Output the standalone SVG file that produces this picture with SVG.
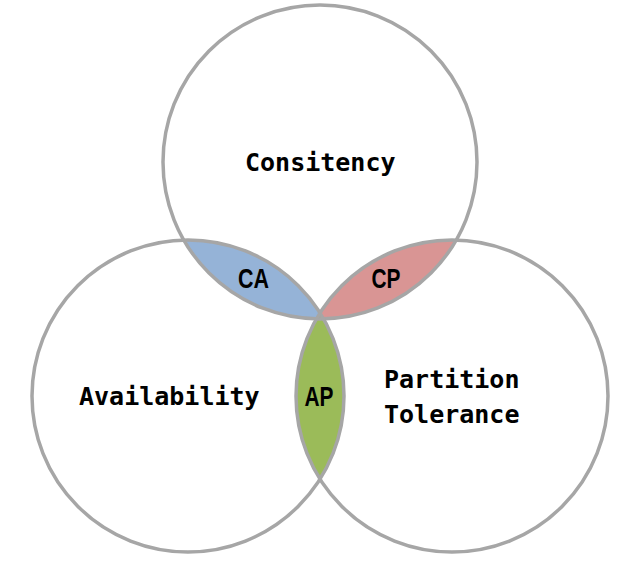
<svg xmlns="http://www.w3.org/2000/svg" width="627" height="562" viewBox="0 0 627 562">
<style>
.ring{fill:none;stroke:#a6a6a6;stroke-width:3.5}
.lbl{font-family:"DejaVu Sans Mono","Liberation Mono",monospace;font-size:25px;font-weight:bold;fill:#000}
.sm{font-family:"Liberation Sans Narrow","Liberation Sans",Arial,sans-serif;font-size:28px;font-weight:bold;fill:#000;text-anchor:middle}
</style>
<defs>
<clipPath id="cTop"><circle cx="320" cy="162" r="157"/></clipPath>
<clipPath id="cLeft"><circle cx="188" cy="396" r="156"/></clipPath>
</defs>
<rect width="627" height="562" fill="#fff"/>
<g id="CA"><circle cx="188" cy="396" r="156" fill="#95b3d7" clip-path="url(#cTop)"/><text class="sm" x="253.5" y="288" textLength="31" lengthAdjust="spacingAndGlyphs">CA</text></g>
<g id="CP"><circle cx="452" cy="396" r="156" fill="#d99594" clip-path="url(#cTop)"/><text class="sm" x="386" y="288" textLength="29" lengthAdjust="spacingAndGlyphs">CP</text></g>
<g id="AP"><circle cx="452" cy="396" r="156" fill="#9bbb59" clip-path="url(#cLeft)"/><text class="sm" x="319" y="406" textLength="29" lengthAdjust="spacingAndGlyphs">AP</text></g>
<g id="consistency"><circle class="ring" cx="320" cy="162" r="157"/><text class="lbl" x="245" y="171">Consitency</text></g>
<g id="availability"><circle class="ring" cx="188" cy="396" r="156"/><text class="lbl" x="79" y="405">Availability</text></g>
<g id="partition"><circle class="ring" cx="452" cy="396" r="156"/><text class="lbl" x="384" y="388">Partition</text><text class="lbl" x="384" y="423">Tolerance</text></g>
<g id="connectors"/>
</svg>
